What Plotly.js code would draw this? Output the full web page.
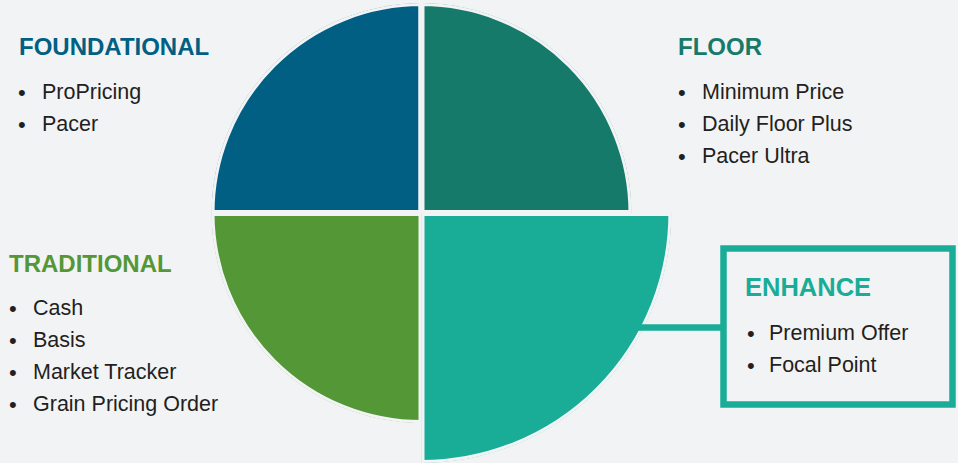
<!DOCTYPE html>
<html><head><meta charset="utf-8">
<script src="https://cdn.plot.ly/plotly-3.0.1.min.js"></script>
<style>html,body{margin:0;padding:0;background:#f2f3f5;}#chart{width:958px;height:463px;}</style>
</head><body><div id="chart"></div>
<script>
// ---- data ----
const categories = ['FOUNDATIONAL', 'FLOOR', 'TRADITIONAL', 'ENHANCE'];
const sliceAngles = [135, 45, 225, 315];
const sliceWidths = [90, 90, 90, 90];
const sliceRadii = [100, 100, 100, 119];
const sliceColors = ['#015f84', '#167a6a', '#549736', '#19ad98'];
const foundationalItems = ['ProPricing', 'Pacer'];
const floorItems = ['Minimum Price', 'Daily Floor Plus', 'Pacer Ultra'];
const traditionalItems = ['Cash', 'Basis', 'Market Tracker', 'Grain Pricing Order'];
const enhanceItems = ['Premium Offer', 'Focal Point'];

// ---- layout geometry ----
const W = 958, H = 463, BG = '#f2f3f5';
const k = 2.1;                 // px per radial unit
const cx = 421.5;
const R1 = 100 * k;            // small polar radius (px)
const R2 = 119 * k;            // big polar radius (px)
const cy = H - R2;             // shared centre (px from top)

const small = [0, 1, 2];
const traces = [
  {
    type: 'barpolar', subplot: 'polar',
    theta: small.map(i => sliceAngles[i]),
    width: small.map(i => sliceWidths[i]),
    r: small.map(i => sliceRadii[i]),
    text: small.map(i => categories[i]),
    marker: { color: small.map(i => sliceColors[i]), line: { color: BG, width: 6 } },
    hoverinfo: 'skip', showlegend: false
  },
  {
    type: 'barpolar', subplot: 'polar2',
    theta: [sliceAngles[3]], width: [sliceWidths[3]], r: [sliceRadii[3]],
    text: [categories[3]],
    marker: { color: [sliceColors[3]], line: { color: BG, width: 6 } },
    hoverinfo: 'skip', showlegend: false
  }
];

const layout = {
  width: W, height: H,
  margin: { l: 0, r: 0, t: 0, b: 0 },
  paper_bgcolor: BG, plot_bgcolor: BG,
  showlegend: false,
  hovermode: false,
  polar: {
    domain: { x: [(cx - R1) / W, (cx + R1) / W], y: [(H - cy - R1) / H, (H - cy + R1) / H] },
    bgcolor: 'rgba(0,0,0,0)',
    radialaxis: { visible: false, range: [0, 100] },
    angularaxis: { visible: false, rotation: 0, direction: 'counterclockwise' }
  },
  polar2: {
    domain: { x: [cx / W, (cx + R2) / W], y: [0, R2 / H] },
    sector: [270, 360],
    bgcolor: 'rgba(0,0,0,0)',
    radialaxis: { visible: false, range: [0, 119] },
    angularaxis: { visible: false, rotation: 0, direction: 'counterclockwise' }
  },
  shapes: [
    { type: 'line', xref: 'paper', yref: 'paper', x0: 630 / W, x1: 723.5 / W, y0: 1 - 327.5 / H, y1: 1 - 327.5 / H,
      line: { color: sliceColors[3], width: 6.5 } },
    { type: 'rect', xref: 'paper', yref: 'paper', x0: 723.5 / W, x1: 952.5 / W, y0: 1 - 404.5 / H, y1: 1 - 248.5 / H,
      line: { color: sliceColors[3], width: 6.5 }, fillcolor: 'rgba(0,0,0,0)' }
  ],
  annotations: []
};

const FONT = '"Liberation Sans", Arial, sans-serif';
const groups = [
  { idx: 0, items: foundationalItems, tx: 18, ty: 46, ts: 24, bx: 22, ix: 41, iy: 92 },
  { idx: 1, items: floorItems, tx: 677, ty: 46, ts: 24, bx: 682, ix: 701, iy: 92 },
  { idx: 2, items: traditionalItems, tx: 8, ty: 263, ts: 24, bx: 13, ix: 32, iy: 308 },
  { idx: 3, items: enhanceItems, tx: 744, ty: 287, ts: 25.5, bx: 751, ix: 768, iy: 333 }
];
const step = 32;
function ann(text, px, py, font, anchor) {
  return { xref: 'paper', yref: 'paper', x: px / W, y: 1 - py / H, text: text, showarrow: false,
    xanchor: anchor || 'left', yanchor: 'middle', font: font, borderpad: 0 };
}
groups.forEach(g => {
  layout.annotations.push(ann('<b>' + categories[g.idx] + '</b>', g.tx, g.ty,
    { family: FONT, size: g.ts, color: sliceColors[g.idx] }));
  g.items.forEach((it, j) => {
    const y = g.iy + j * step;
    layout.annotations.push(ann('•', g.bx, y, { family: FONT, size: 22, color: '#231f20' }, 'center'));
    layout.annotations.push(ann(it, g.ix, y, { family: FONT, size: 21.5, color: '#231f20' }));
  });
});

Plotly.newPlot('chart', traces, layout, { displayModeBar: false, staticPlot: true });
</script>
</body></html>
